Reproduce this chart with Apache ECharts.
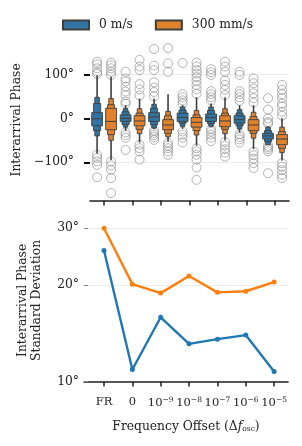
<!DOCTYPE html>
<html><head><meta charset="utf-8">
<script src="https://cdn.jsdelivr.net/npm/echarts@6/dist/echarts.min.js"></script>
<style>html,body{margin:0;padding:0;background:#fff}#c{width:302px;height:446px}</style>
</head><body><div id="c"></div>
<script>
// ---------- data ----------
const categories = ['FR', '0', '10^-9', '10^-8', '10^-7', '10^-6', '10^-5'];
const hueNames = ['0 m/s', '300 mm/s'];
const phaseTicks = [-100, 0, 100];
const stdTicks = [10, 20, 30];

// letter values per category: [tailLo, l3Lo, l2Lo, l1Lo, median, l1Hi, l2Hi, l3Hi, tailHi]
const lettersSlow = [
  [-80, -40, -28, -17, -1, 13, 34, 48, 98],
  [-28, -20, -14, -7, 0, 8, 15, 22, 30],
  [-25, -22, -15, -7, 3, 13, 23, 32, 45],
  [-24, -18, -11, -7, 2, 12, 19, 26, 30],
  [-20, -18, -12, -7, 2, 10, 18, 26, 34],
  [-32, -24, -17, -11, -3, 6, 12, 20, 30],
  [-58, -60, -53, -47, -40, -34, -28, -20, -18]
];
const lettersFast = [
  [-95, -50, -37, -26, -7, 23, 31, 45, 95],
  [-55, -35, -25, -17, -6, 6, 12, 22, 45],
  [-52, -42, -34, -26, -15, -3, 6, 16, 55],
  [-62, -38, -28, -20, -9, 2, 8, 18, 48],
  [-50, -35, -25, -19, -6, 6, 12, 22, 48],
  [-70, -45, -34, -28, -15, -3, 4, 14, 30],
  [-96, -78, -68, -60, -47, -37, -30, -20, 0]
];
const outliersSlow = [
  [129, 123, 114, 106, 101, -83, -90, -98, -106, -134],
  [106, 91, 84, 72, 61, 53, 38, 33, -32, -38, -44, -72],
  [158, 120, 110, 82, 70, 60, 50, -28, -33, -38, -43, -49],
  [126, 55, 48, 41, 34, -30, -37, -44, -55],
  [112, 105, 99, 62, 55, 48, 41, -24, -30, -37, -44, -52],
  [106, 99, 62, 55, 48, 40, -36, -42, -48, -55],
  [46, 20, 0, -8, -12, -62, -66, -70, -75, -125]
];
const outliersFast = [
  [127, 121, 114, 106, 99, -98, -107, -117, -136, -170],
  [133, 118, 110, 78, 66, 52, -60, -68, -75, -94],
  [160, 125, 106, -56, -62, -68, -75, -83],
  [127, 118, 110, 102, 94, 85, 76, 66, 56, -68, -75, -83, -94, -112, -140],
  [129, 118, 106, 86, 76, 65, 53, -54, -62, -70, -78, -87],
  [91, 80, 68, 57, 46, 36, -76, -84, -92, -102, -113],
  [76, 65, 55, 46, 34, 27, 15, 6, -102, -110, -118, -128, -136]
];
// interarrival phase standard deviation (degrees)
const stdSlow = [25.6, 10.9, 15.85, 13.1, 13.55, 13.95, 10.75];
const stdFast = [30.0, 20.1, 18.85, 21.3, 18.95, 19.1, 20.4];

// ---------- styles ----------
const FONT = 'DejaVu Serif';
const FS = 12.3;
const BLUE_BOX = '#3274a1', ORANGE_BOX = '#e1812c';
const BLUE = '#1f77b4', ORANGE = '#ff7f0e';
const EDGE = '#3f3f3f';
const HUE_OFF = 0.245;  // category units
const catIdx = categories.map((_, i) => i);

function boxenRenderer(side, fill) {
  return function (params, api) {
    const c = api.value(0);
    const cw = api.size([1, 0])[0];
    const xc = api.coord([c, 0])[0] + side * HUE_OFF * cw;
    const y = v => api.coord([c, v])[1];
    const widths = [0.16 * cw, 0.25 * cw, 0.38 * cw];
    const ch = [];
    ch.push({ type: 'line', shape: { x1: xc, y1: y(api.value(1)), x2: xc, y2: y(api.value(9)) },
      style: { stroke: EDGE, lineWidth: 1.6 } });
    for (let k = 0; k < 3; k++) {
      const lo = api.value(2 + k), hi = api.value(8 - k), w = widths[k];
      ch.push({ type: 'rect', shape: { x: xc - w / 2, y: y(hi), width: w, height: y(lo) - y(hi) },
        style: { fill: fill, stroke: EDGE, lineWidth: 0.9 } });
    }
    const w = widths[2];
    ch.push({ type: 'line', shape: { x1: xc - w / 2, y1: y(api.value(5)), x2: xc + w / 2, y2: y(api.value(5)) },
      style: { stroke: EDGE, lineWidth: 1 } });
    return { type: 'group', children: ch };
  };
}

function outlierData(arr) {
  const out = [];
  arr.forEach((vals, i) => vals.forEach(v => out.push([i, v])));
  return out;
}
function catLabel(v) {
  const s = categories[Math.round(v)];
  const p = s.split('^');
  return p.length === 2 ? '{b|' + p[0] + '}{sup|' + p[1].replace('-', '\u2212') + '}' : '{b|' + s + '}';
}

const chart = echarts.init(document.getElementById('c'), null, { renderer: 'canvas' });
const txt = { fontFamily: FONT, fontSize: FS, color: '#222' };

chart.setOption({
  animation: false,
  textStyle: { fontFamily: FONT },
  legend: {
    data: hueNames, top: 14, left: 57, itemWidth: 26, itemHeight: 9, itemGap: 22,
    icon: 'rect', textStyle: Object.assign({}, txt, { padding: [0, 0, 0, 5] })
  },
  grid: [
    { left: 90, right: 13, top: 39.3, bottom: 245.5 },
    { left: 84, right: 14, top: 219.3, bottom: 64.5 }
  ],
  xAxis: [
    { gridIndex: 0, type: 'value', min: -0.494, max: 6.49,
      axisLine: { show: true, onZero: false, lineStyle: { color: '#222', width: 1.6 } },
      axisTick: { show: true, customValues: catIdx, length: 5, lineStyle: { color: '#222', width: 1.5 } },
      axisLabel: { show: false }, splitLine: { show: false } },
    { gridIndex: 1, type: 'value', min: -0.706, max: 6.49,
      name: '{a|Frequency Offset (\u0394}{i|f}{s|osc}{a|)}', nameLocation: 'middle', nameGap: 38,
      nameTextStyle: { rich: {
        a: Object.assign({}, txt),
        i: Object.assign({}, txt, { fontStyle: 'italic' }),
        s: Object.assign({}, txt, { fontSize: 7.5, padding: [6, 0, 0, 0] }) } },
      axisLine: { show: true, onZero: false, lineStyle: { color: '#222', width: 1.6 } },
      axisTick: { show: true, customValues: catIdx, length: 5, lineStyle: { color: '#222', width: 1.5 } },
      axisLabel: { customValues: catIdx, margin: 15, formatter: catLabel,
        rich: { b: Object.assign({}, txt, { fontSize: 11.5 }),
                sup: Object.assign({}, txt, { fontSize: 7.5, padding: [0, 0, 6, 0] }) } },
      splitLine: { show: false } }
  ],
  yAxis: [
    { gridIndex: 0, type: 'value', min: -187, max: 180,
      name: 'Interarrival Phase', nameLocation: 'middle', nameGap: 63, nameRotate: 90,
      nameTextStyle: Object.assign({}, txt),
      axisLine: { show: false, onZero: false },
      axisTick: { show: true, customValues: phaseTicks, length: 6, lineStyle: { color: '#111', width: 2 } },
      axisLabel: Object.assign({ customValues: phaseTicks, margin: 16,
        formatter: v => (v < 0 ? '\u2212' + (-v) : v) + '\u00B0' }, txt),
      splitLine: { show: true, lineStyle: { color: '#ececec', width: 1 } } },
    { gridIndex: 1, type: 'log', logBase: 10, min: 10, max: 32,
      name: 'Interarrival Phase\nStandard Deviation', nameLocation: 'middle', nameGap: 40, nameRotate: 90,
      nameTextStyle: Object.assign({}, txt, { lineHeight: 14 }),
      axisLine: { show: false, onZero: false },
      axisTick: { show: true, inside: true, customValues: stdTicks, length: 4, lineStyle: { color: '#888', width: 1 } },
      axisLabel: Object.assign({ customValues: stdTicks, margin: 5, formatter: v => Math.round(v) + '\u00B0' }, txt),
      splitLine: { show: true, lineStyle: { color: '#ececec', width: 1 } } }
  ],
  series: [
    { name: hueNames[0] + ' outliers', type: 'scatter', xAxisIndex: 0, yAxisIndex: 0,
      data: outlierData(outliersSlow), symbol: 'circle', symbolSize: 9,
      itemStyle: { color: 'rgba(0,0,0,0)', borderColor: '#8a8a8a', borderWidth: 0.8 }, z: 1, silent: true },
    { name: hueNames[1] + ' outliers', type: 'scatter', xAxisIndex: 0, yAxisIndex: 0,
      data: outlierData(outliersFast), symbol: 'circle', symbolSize: 9,
      itemStyle: { color: 'rgba(0,0,0,0)', borderColor: '#8a8a8a', borderWidth: 0.8 }, z: 1, silent: true },
    { name: hueNames[0], type: 'custom', xAxisIndex: 0, yAxisIndex: 0,
      renderItem: boxenRenderer(-1, BLUE_BOX),
      itemStyle: { color: BLUE_BOX, borderColor: EDGE, borderWidth: 1 },
      data: lettersSlow.map((r, i) => [i].concat(r)),
      encode: { x: 0, y: [1, 2, 3, 4, 5, 6, 7, 8, 9] }, z: 3 },
    { name: hueNames[1], type: 'custom', xAxisIndex: 0, yAxisIndex: 0,
      renderItem: boxenRenderer(1, ORANGE_BOX),
      itemStyle: { color: ORANGE_BOX, borderColor: EDGE, borderWidth: 1 },
      data: lettersFast.map((r, i) => [i].concat(r)),
      encode: { x: 0, y: [1, 2, 3, 4, 5, 6, 7, 8, 9] }, z: 3 },
    { name: 'std ' + hueNames[0], type: 'line', xAxisIndex: 1, yAxisIndex: 1,
      data: stdSlow.map((v, i) => [i, v]), symbol: 'circle', symbolSize: 5,
      lineStyle: { color: BLUE, width: 2.4 }, itemStyle: { color: BLUE }, z: 3 },
    { name: 'std ' + hueNames[1], type: 'line', xAxisIndex: 1, yAxisIndex: 1,
      data: stdFast.map((v, i) => [i, v]), symbol: 'circle', symbolSize: 5,
      lineStyle: { color: ORANGE, width: 2.4 }, itemStyle: { color: ORANGE }, z: 3 }
  ]
});
// shift outlier markers to their hue positions (pixel offset relative to category width)
(function () {
  const cw = chart.convertToPixel({ xAxisIndex: 0 }, 1) - chart.convertToPixel({ xAxisIndex: 0 }, 0);
  chart.setOption({ series: [
    { name: hueNames[0] + ' outliers', symbolOffset: [-HUE_OFF * cw, 0] },
    { name: hueNames[1] + ' outliers', symbolOffset: [HUE_OFF * cw, 0] }
  ] });
})();
</script></body></html>
